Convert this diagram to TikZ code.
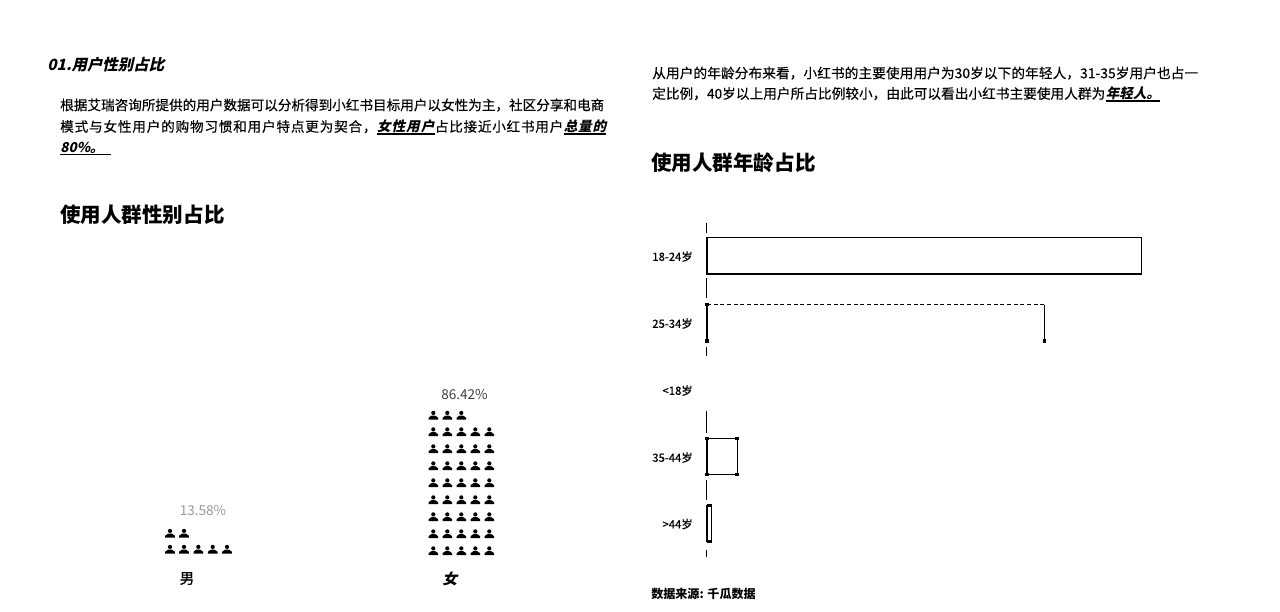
\documentclass[tikz,border=0pt]{standalone}
\usepackage{fontspec}
\setmainfont[FakeBold=0.35]{Noto Sans CJK SC}
\newfontfamily\slantcjk[FakeSlant=0.22]{Noto Sans CJK SC}
\newfontfamily\plaincjk{Noto Sans CJK SC}
\usetikzlibrary{positioning}

\tikzset{
	bodytext/.style={inner sep=0pt,font=\fontsize{10.2}{12}\selectfont,text height=8.5pt,text depth=1.5pt},
	emtext/.style={bodytext,font=\fontsize{10.2}{12}\selectfont\slantcjk\bfseries},
	headtext/.style={inner sep=0pt,anchor=west,font=\fontsize{15.4}{18}\selectfont\plaincjk\bfseries},
	agetext/.style={inner sep=0pt,anchor=east,font=\fontsize{8.5}{10}\selectfont},
	pcttext/.style={inner sep=0pt,font=\fontsize{10.2}{12}\selectfont\plaincjk},
	gendertext/.style={inner sep=0pt,font=\fontsize{11}{13}\selectfont},
	agebar/.style={line width=0.9pt},
	person/.pic={
		\fill (0,2.6) circle (2.1);
		\fill (-4.8,-4) -- (-4.8,-2.2) -- (-2,-0.2) -- (2,-0.2) -- (4.8,-2.2) -- (4.8,-4) -- cycle;
	}
}

\begin{document}
\begin{tikzpicture}[x=0.75pt,y=0.75pt,yscale=-1,xscale=1]
	\useasboundingbox (0,0) rectangle (1280,611);

	% left column
	\node [inner sep=0pt,anchor=west,font=\fontsize{11.6}{14}\selectfont\slantcjk\bfseries] (secttl) at (47,64.5) {01.用户性别占比};
	\node [bodytext,anchor=west] (la) at (60,105.5) {根据艾瑞咨询所提供的用户数据可以分析得到小红书目标用户以女性为主，社区分享和电商};
	\node [bodytext,anchor=west,font=\fontsize{10.2}{12}\selectfont\addfontfeature{LetterSpace=6}] (lb) at (60,127) {模式与女性用户的购物习惯和用户特点更为契合，};
	\node [emtext,right=0pt of lb,font=\fontsize{10.2}{12}\selectfont\slantcjk\bfseries\addfontfeature{LetterSpace=7}] (lbem) {女性用户};
	\node [bodytext,right=0pt of lbem,font=\fontsize{10.2}{12}\selectfont\addfontfeature{LetterSpace=5.5}] (lbc) {占比接近小红书用户};
	\node [emtext,right=0pt of lbc,font=\fontsize{10.2}{12}\selectfont\slantcjk\bfseries\addfontfeature{LetterSpace=5.5}] (lbtot) {总量的};
	\node [emtext,anchor=west] (lc) at (60,147.5) {80\%。};
	\draw [line width=0.9pt] (lbem.south west) -- (lbem.south east);
	\draw [line width=0.9pt] (lbtot.south west) -- (lbtot.south east);
	\draw [line width=1.2pt] (lc.south west) -- ([xshift=5pt]lc.south east);
	\node [headtext] (lefthead) at (60,214.5) {使用人群性别占比};

	% pictograms
	\foreach \px in {170,184,198.3,212.7,227} \pic at (\px,549.5) {person};
	\foreach \px in {170,184} \pic at (\px,533.5) {person};
	\foreach \py in {432,449,466,483,500,517,534,551}
		\foreach \px in {433.3,447.3,461.3,475.3,489.3} \pic at (\px,\py) {person};
	\foreach \px in {433.3,447.3,461.3} \pic at (\px,415.5) {person};
	\node [pcttext,text=black!40] (malepct) at (203,510.5) {13.58\%};
	\node [pcttext,text=black!75] (femalepct) at (464.5,394.5) {86.42\%};
	\node [gendertext] (male) at (187,578.5) {男};
	\node [gendertext,font=\fontsize{11}{13}\selectfont\slantcjk\bfseries] (female) at (450,578.5) {女};

	% right column
	\node [bodytext,anchor=west,font=\fontsize{10.2}{12}\selectfont\addfontfeature{LetterSpace=1.1}] (ra) at (652,73.5) {从用户的年龄分布来看，小红书的主要使用用户为30岁以下的年轻人，31-35岁用户也占一};
	\node [bodytext,anchor=west,font=\fontsize{10.2}{12}\selectfont\addfontfeature{LetterSpace=0.6}] (rb) at (652,94) {定比例，40岁以上用户所占比例较小，由此可以看出小红书主要使用人群为};
	\node [emtext,right=0pt of rb] (rbem) {年轻人。};
	\draw [line width=0.9pt] (rbem.south west) -- (rbem.south east);
	\node [headtext] (righthead) at (651,162.5) {使用人群年龄占比};

	% axis pieces
	\foreach \ya/\yb in {223/233,278/298,347/356,411/433,480/500,550/557}
		\draw [line width=0.8pt] (706.5,\ya) -- (706.5,\yb);

	% bars
	\draw [agebar] (707,237.5) rectangle (1141.5,274);
	\draw [line width=1.4pt] (707,274) -- (1141.5,274);
	\draw [densely dashed,line width=0.6pt] (707,304.5) -- (1044.5,304.5);
	\draw [agebar] (707,304.5) -- (707,341) (1044.5,304.5) -- (1044.5,341);
	\draw [agebar] (707,438.5) rectangle (737.5,474.5);
	\draw [agebar] (707,505.5) rectangle (711.5,541.5);

	% corner marks
	\foreach \cx/\cy in {707/304.5,707/341,1044.5/341,707/438.5,737/438.5,707/474.5,737/474.5,708.5/505.5,710/505.5,708.5/541.5,710/541.5}
		\fill (\cx-1.8,\cy-1.8) rectangle (\cx+1.8,\cy+1.8);
	\node [agetext] (agea) at (693,256.5) {18-24岁};
	\node [agetext] (ageb) at (693,323.5) {25-34岁};
	\node [agetext] (agec) at (693,390.5) {<18岁};
	\node [agetext] (aged) at (693,457.5) {35-44岁};
	\node [agetext] (agee) at (693,524) {>44岁};
	\node [inner sep=0pt,anchor=west,font=\fontsize{9.05}{11}\selectfont\plaincjk\bfseries] (source) at (651,594) {数据来源: 千瓜数据};
\end{tikzpicture}
\end{document}
